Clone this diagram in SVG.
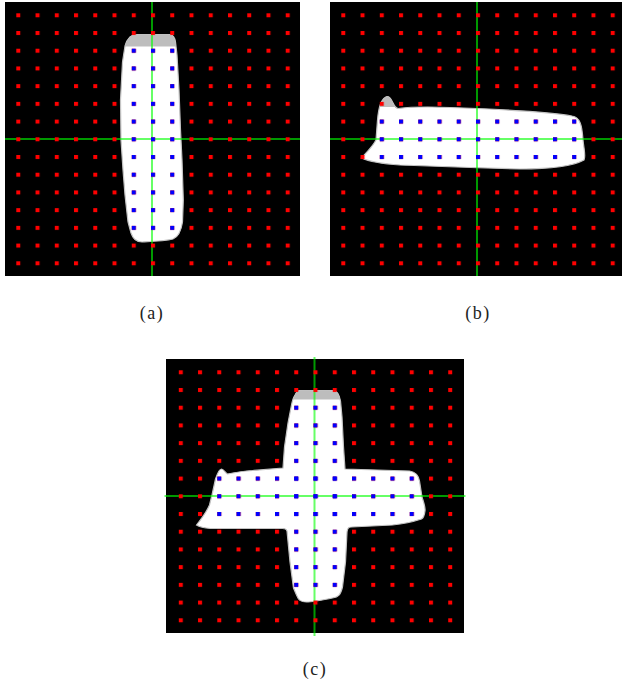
<svg xmlns="http://www.w3.org/2000/svg" width="622" height="686" viewBox="0 0 622 686">
<style>
.bg{fill:#000}
.shape{fill:#fff;stroke:#c4c4c4;stroke-width:1.2}
.cap{fill:#bdbdbd}
.axis{stroke:#00ff00;stroke-opacity:0.6;stroke-width:2;fill:none}
.lbl{font-family:"Liberation Serif","DejaVu Serif",serif;font-size:18px;letter-spacing:1.5px;fill:#222;text-anchor:middle}
</style>
<defs>
<pattern id="red" patternUnits="userSpaceOnUse" x="16.3" y="13.3" width="19.245" height="17.714">
<rect x="0" y="0" width="4" height="4" fill="#ff0000"/>
</pattern>
<pattern id="blue" patternUnits="userSpaceOnUse" x="16.3" y="13.3" width="19.245" height="17.714">
<rect x="0" y="0" width="4" height="4" fill="#0000ff"/>
</pattern>
<path id="shapeA" d="M130,37 C132,35 134,34.5 137,34.5 L170,34.5 C173,35 175,38 175.5,42 L177,55 L179,90 L180.5,130 L182,160 L183.3,200 L182.5,222 C181,232 178,237 173,239 C165,241 152,241.5 142,242 C136,242 133,239 131,233 L128,222 L125,195 L123,170 L121,140 L120.5,100 L122.5,62 L125,46 C126,42 128,39 130,37 Z"/>
<path id="shapeB" d="M36.5,158 C42,152 48,146 51,140 L52.5,120 C53.5,108 56,100 60,97.5 C63,95.5 65,97 67,101 C69,105 70,108 73,108.5 C85,107 100,106.5 125,107.5 L152,108.5 C185,110 225,112 247,116 C255,117 257,125 258,140 C259,150 261,156 259,160 C250,165 230,169 195,169 C155,168 105,166 75,165 C60,164 45,162 36.5,158 Z"/>
<path id="shapeC" d="M132.5,38 C134,35 135,34 137,33.5 L171,33.5 C175,34 177,38 178,44 L179.5,60 L181,90 L182.5,112 L247,114 C253,115 256,118 257,124 L259.5,140 C261,145 263,150 262.5,154 C262,158 261,161 259,162 C250,165 240,167 230,168 L189,170 C186,170 185,171 184.5,175 L183,205 L180,230 C178,238 176,240 170,241 C160,243 150,245 144,245 C138,245 136,243 134,238 L131,231 L127.5,205 L124.5,174 C124,172 122,171.5 120,171.5 L48,171.5 C42,171 37,170 34,168 C38,163 44,155 47,148 L49.5,138 L53,122 C55,116 57,112 59,112 C61,112 63,116 65,117 C70,116 80,114 90,113.5 L120.5,111 L122,90 L125.5,66 L129,48 C130,43 131,40 132.5,38 Z"/>
<clipPath id="clipA"><use href="#shapeA"/></clipPath>
<clipPath id="clipB"><use href="#shapeB"/></clipPath>
<clipPath id="clipC"><use href="#shapeC"/></clipPath>
</defs>

<g id="panel-a">
<rect class="bg" x="5" y="2" width="295" height="274"/>
<use href="#shapeA" class="shape"/>
<rect class="cap" x="100" y="30" width="100" height="16.5" clip-path="url(#clipA)"/>
<g class="axes"><line class="axis" x1="152" y1="2" x2="152" y2="276"/><line class="axis" x1="5" y1="139" x2="300" y2="139"/></g>
<rect x="5" y="2" width="295" height="274" fill="url(#red)"/>
<rect x="130" y="47" width="46" height="184" fill="url(#blue)"/>
</g>

<g id="panel-b" transform="translate(325,0)">
<rect class="bg" x="5" y="2" width="295" height="274"/>
<use href="#shapeB" class="shape"/>
<rect class="cap" x="40" y="80" width="50" height="27" clip-path="url(#clipB)"/>
<g class="axes"><line class="axis" x1="152" y1="2" x2="152" y2="276"/><line class="axis" x1="5" y1="139" x2="300" y2="139"/></g>
<rect x="5" y="2" width="295" height="274" fill="url(#red)"/>
<rect x="53" y="118" width="200" height="42" fill="url(#blue)"/>
</g>

<g id="panel-c" transform="translate(162.5,357)">
<rect class="bg" x="3.5" y="2" width="298" height="274"/>
<use href="#shapeC" class="shape"/>
<rect class="cap" x="100" y="28" width="100" height="14.5" clip-path="url(#clipC)"/>
<g class="axes"><line class="axis" x1="152" y1="0" x2="152" y2="279"/><line class="axis" x1="2" y1="139" x2="303" y2="139"/></g>
<rect x="3.5" y="2" width="298" height="274" fill="url(#red)"/>
<rect x="130" y="47" width="46" height="184" fill="url(#blue)"/>
<rect x="53" y="118" width="200" height="42" fill="url(#blue)"/>
</g>

<g id="labels">
<text class="lbl" x="152" y="319">(a)</text>
<text class="lbl" x="478" y="319">(b)</text>
<text class="lbl" x="315" y="675">(c)</text>
</g>
</svg>
